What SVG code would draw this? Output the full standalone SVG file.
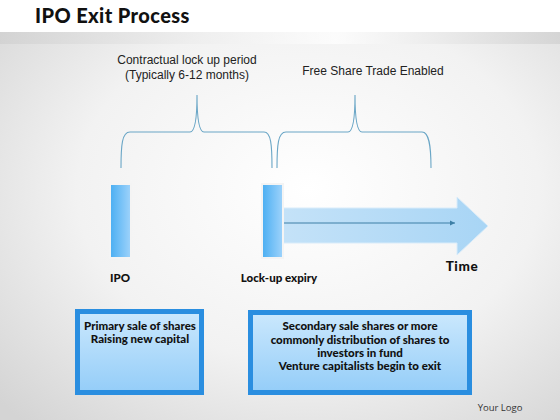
<svg xmlns="http://www.w3.org/2000/svg" width="560" height="420" viewBox="0 0 560 420">
<defs>
<radialGradient id="bg" cx="0.55" cy="0.45" r="0.75">
<stop offset="0" stop-color="#ffffff"/>
<stop offset="0.55" stop-color="#f2f2f2"/>
<stop offset="1" stop-color="#d4d4d4"/>
</radialGradient>
<linearGradient id="band" x1="0" y1="0" x2="1" y2="0">
<stop offset="0" stop-color="#cfcfcf"/>
<stop offset="0.35" stop-color="#ededed"/>
<stop offset="0.6" stop-color="#ffffff"/>
<stop offset="1" stop-color="#cfcfcf"/>
</linearGradient>
<linearGradient id="bar" x1="0" y1="0" x2="1" y2="0">
<stop offset="0" stop-color="#4aaef2"/>
<stop offset="1" stop-color="#9fd3fb"/>
</linearGradient>
<linearGradient id="arrow" x1="0" y1="0" x2="1" y2="0">
<stop offset="0" stop-color="#c4e2f8"/>
<stop offset="1" stop-color="#a8d5f5"/>
</linearGradient>
<linearGradient id="box" x1="0" y1="0" x2="0" y2="1">
<stop offset="0" stop-color="#cbe8fd"/>
<stop offset="1" stop-color="#94cdf8"/>
</linearGradient>
<marker id="ah" markerWidth="6" markerHeight="6" refX="5" refY="3" orient="auto" markerUnits="userSpaceOnUse">
<path d="M0,0.5 L5,3 L0,5.5 Z" fill="#3d7fa6"/>
</marker>
</defs>
<style>
.brace{fill:none;stroke:#6aa6c6;stroke-width:1.1}
.t{font-family:"Liberation Sans",Arial,sans-serif;font-size:12px;fill:#222}
.b{font-family:Lato,"Open Sans",sans-serif;font-weight:900;fill:#111}
.bx{fill:url(#box);stroke:#2a8ee0;stroke-width:5}
.vb{fill:url(#bar);stroke:#f4f4f4;stroke-width:2}
</style>
<rect width="560" height="420" fill="url(#bg)"/>
<rect width="560" height="32" fill="#ffffff"/>
<rect y="32" width="560" height="12" fill="url(#band)" opacity="0.7"/>
<text x="35" y="23" class="b" font-size="20" letter-spacing="0.4">IPO Exit Process</text>

<g id="connectors">
<path class="brace" d="M121,168 C121,145 122,132 130,132 L190,132 C195,132 197,120 197,95 C197,120 199,132 204,132 L264,132 C271,132 272,145 272,168"/>
<path class="brace" d="M277,168 C277,145 278,132 286,132 L348,132 C353,132 355,120 355,95 C355,120 357,132 362,132 L422,132 C429,132 431,145 431,168"/>
<path d="M283,208 L457,208 L457,197 L488,226 L457,255 L457,243 L283,243 Z" fill="url(#arrow)" stroke="#d9ecfa" stroke-width="1"/>
<line x1="284" y1="223" x2="455" y2="223" stroke="#3d7fa6" stroke-width="1" marker-end="url(#ah)"/>
</g>

<g id="lockup-text">
<text x="187" y="64" class="t" text-anchor="middle">Contractual lock up period</text>
<text x="187" y="79" class="t" text-anchor="middle">(Typically 6-12 months)</text>
</g>
<g id="free-text">
<text x="373" y="75" class="t" text-anchor="middle">Free Share Trade Enabled</text>
</g>

<g id="ipo">
<rect class="vb" x="110" y="184" width="21" height="74"/>
<text x="120" y="282" class="b" font-size="11.5" text-anchor="middle">IPO</text>
</g>
<g id="lockup">
<rect class="vb" x="262" y="184" width="21" height="74"/>
<text x="279" y="282" class="b" font-size="11.5" text-anchor="middle">Lock-up expiry</text>
</g>
<g id="time">
<text x="462" y="271" class="b" font-size="13.5" letter-spacing="0.6" text-anchor="middle">Time</text>
</g>

<g id="box1">
<rect class="bx" x="77.5" y="311.5" width="124" height="81"/>
<text class="b" font-size="11.5" text-anchor="middle"><tspan x="140" y="330">Primary sale of shares</tspan><tspan x="140" y="343">Raising new capital</tspan></text>
</g>
<g id="box2">
<rect class="bx" x="250.5" y="312.5" width="219" height="80"/>
<text class="b" font-size="11.5" text-anchor="middle"><tspan x="360" y="330">Secondary sale shares or more</tspan><tspan x="360" y="344">commonly distribution of shares to</tspan><tspan x="360" y="357">investors in fund</tspan><tspan x="360" y="370">Venture capitalists begin to exit</tspan></text>
</g>
<text x="500" y="411" font-family="'Open Sans',sans-serif" font-size="9.5" fill="#333" text-anchor="middle">Your Logo</text>
</svg>
